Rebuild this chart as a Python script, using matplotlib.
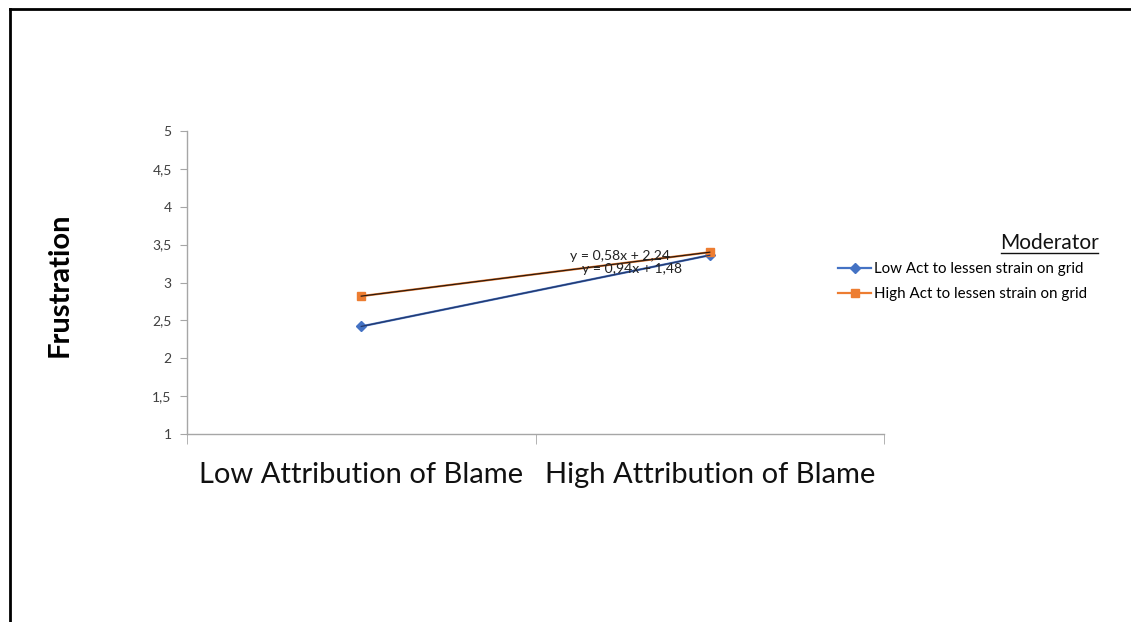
import matplotlib.pyplot as plt
from matplotlib.lines import Line2D

plt.rcParams['font.family'] = ['Lato', 'DejaVu Sans']

categories = ['Low Attribution of Blame', 'High Attribution of Blame']
low_act = [2.42, 3.36]
high_act = [2.82, 3.40]
series_names = ['Low Act to lessen strain on grid', 'High Act to lessen strain on grid']
eq_low = 'y = 0,94x + 1,48'
eq_high = 'y = 0,58x + 2,24'
yticks = [1, 1.5, 2, 2.5, 3, 3.5, 4, 4.5, 5]

W, H = 1131, 622
fig = plt.figure(figsize=(W / 100, H / 100), dpi=100)
ax = fig.add_axes([187 / W, 1 - 434 / H, (884 - 187) / W, (434 - 131) / H])

x = [1, 2]
blue = '#4472C4'
orange = '#ED7D31'
ax.plot(x, low_act, color=blue, lw=1.6, marker='D', ms=5, zorder=3)
ax.plot(x, high_act, color=orange, lw=1.6, marker='s', ms=6, zorder=3)
# trendlines (drawn thin and dark over the series)
ax.plot(x, low_act, color='#24386a', lw=0.9, zorder=4)
ax.plot(x, high_act, color='#2a1a10', lw=0.9, zorder=4)

ax.text(1.742, 3.35, eq_high, fontsize=10.1, ha='center', va='center', color='#222222', zorder=5)
ax.text(1.777, 3.178, eq_low, fontsize=10.1, ha='center', va='center', color='#222222', zorder=5)

ax.set_xlim(0.5, 2.5)
ax.set_ylim(1, 5)
ax.set_yticks(yticks)
ax.set_yticklabels([('%g' % v).replace('.', ',') for v in yticks], fontsize=10, color='#404040')
ax.set_xticks(x)
ax.set_xticklabels(categories, fontsize=21, color='#111111')
ax.set_xticks([0.5, 1.5, 2.5], minor=True)
ax.tick_params(axis='x', which='major', length=0, pad=20)
ax.tick_params(axis='x', which='minor', length=7, color='#a6a6a6', direction='out')
ax.tick_params(axis='y', length=5, color='#a6a6a6', direction='out', pad=6)
for s in ['top', 'right']:
    ax.spines[s].set_visible(False)
for s in ['left', 'bottom']:
    ax.spines[s].set_color('#a6a6a6')
    ax.spines[s].set_linewidth(1)

fig.text(60 / W, 1 - 285 / H, 'Frustration', rotation=90, fontsize=21, fontweight='bold',
         ha='center', va='center')

# legend
fig.text(1050 / W, 1 - 243 / H, 'Moderator', fontsize=15, ha='center', va='center', color='#111111')
fig.add_artist(Line2D([1001 / W, 1098 / W], [1 - 253 / H, 1 - 253 / H], color='#111111', lw=1))
handles = [Line2D([], [], color=blue, lw=1.6, marker='D', ms=5),
           Line2D([], [], color=orange, lw=1.6, marker='s', ms=6)]
fig.legend(handles, series_names, loc='upper left', bbox_to_anchor=(832 / W, 1 - 256 / H),
           frameon=False, fontsize=10.9, handlelength=2.2, handletextpad=0.2,
           labelspacing=0.75, borderaxespad=0)

# frame around picture (top and left edges only visible)
fig.add_artist(Line2D([10 / W, 1], [1 - 9 / H, 1 - 9 / H], color='black', lw=2))
fig.add_artist(Line2D([10 / W, 10 / W], [0, 1 - 9 / H], color='black', lw=2))

fig.savefig('out.png', dpi=100)
